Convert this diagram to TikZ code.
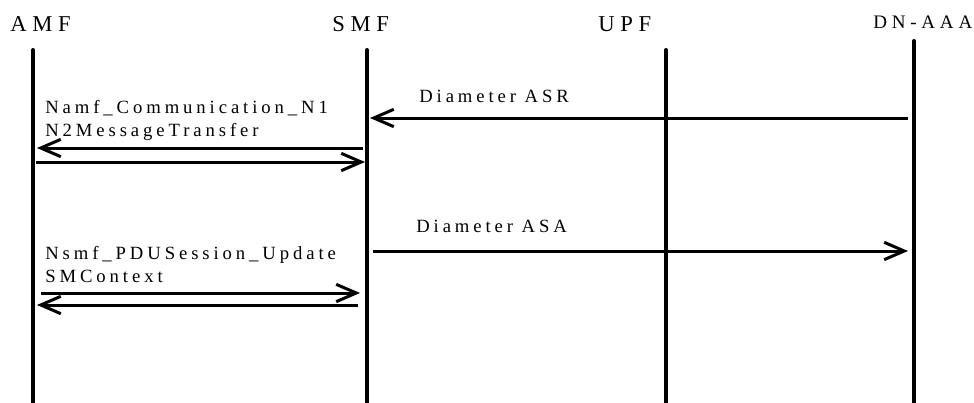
\documentclass[tikz,border=0pt]{standalone}
\usepackage{fontspec}
\setmainfont{Liberation Serif}[LetterSpace=25]
\newfontfamily\msgfont{Liberation Serif}[LetterSpace=21]
\usetikzlibrary{arrows.meta,positioning,calc}

\begin{document}
\begin{tikzpicture}[x=0.75pt,y=-0.75pt,
  life/.style={line width=3pt,line cap=round},
  msg/.style={line width=2.25pt,-{Straight Barb[length=15pt,width=13pt]}},
  head/.style={anchor=base west,inner sep=0pt,font=\fontsize{17}{20}\selectfont},
  lbl/.style={anchor=base west,inner sep=0pt,align=left,font=\msgfont\fontsize{14}{17.25}\selectfont}]
\useasboundingbox (0,0) rectangle (974,403);
\node[head](h_amf) at (10,32) {AMF};
\node[head](h_smf) at (332,32) {SMF};
\node[head](h_upf) at (598,32) {UPF};
\node[head,font=\fontsize{14.3}{17}\selectfont](h_dn) at (873,29) {DN-AAA};
\node[coordinate](t_amf) at (33,50) {};
\node[coordinate](t_smf) at (367,50) {};
\node[coordinate](t_upf) at (666,50) {};
\node[coordinate](t_dn) at (914,41) {};
\node[coordinate](b_amf) at (33,410) {};
\node[coordinate](b_smf) at (367,410) {};
\node[coordinate](b_upf) at (666,410) {};
\node[coordinate](b_dn) at (914,410) {};
\draw[life] (t_amf) -- (b_amf);
\draw[life] (t_smf) -- (b_smf);
\draw[life] (t_upf) -- (b_upf);
\draw[life] (t_dn) -- (b_dn);
\node[coordinate](q_1a) at (908,118) {};
\node[coordinate](q_1b) at (370,118) {};
\node[coordinate](q_2a) at (363,148) {};
\node[coordinate](q_2b) at (37,148) {};
\node[coordinate](q_3a) at (36,162) {};
\node[coordinate](q_3b) at (365,162) {};
\node[coordinate](q_4a) at (373,251) {};
\node[coordinate](q_4b) at (908,251) {};
\node[coordinate](q_5a) at (41,293) {};
\node[coordinate](q_5b) at (360,293) {};
\node[coordinate](q_6a) at (358,305) {};
\node[coordinate](q_6b) at (37,305) {};
\draw[msg] (q_1a) -- (q_1b);
\draw[msg] (q_2a) -- (q_2b);
\draw[msg] (q_3a) -- (q_3b);
\draw[msg] (q_4a) -- (q_4b);
\draw[msg] (q_5a) -- (q_5b);
\draw[msg] (q_6a) -- (q_6b);
\node[lbl](l_asr) at (419,103) {Diameter ASR};
\node[lbl](l_asa) at (416,232) {Diameter ASA};
\node[lbl](l_n1) at (45,137) {Namf\_Communication\_N1\\N2MessageTransfer};
\node[lbl](l_pdu) at (45,282) {Nsmf\_PDUSession\_Update\\SMContext};
\end{tikzpicture}
\end{document}
